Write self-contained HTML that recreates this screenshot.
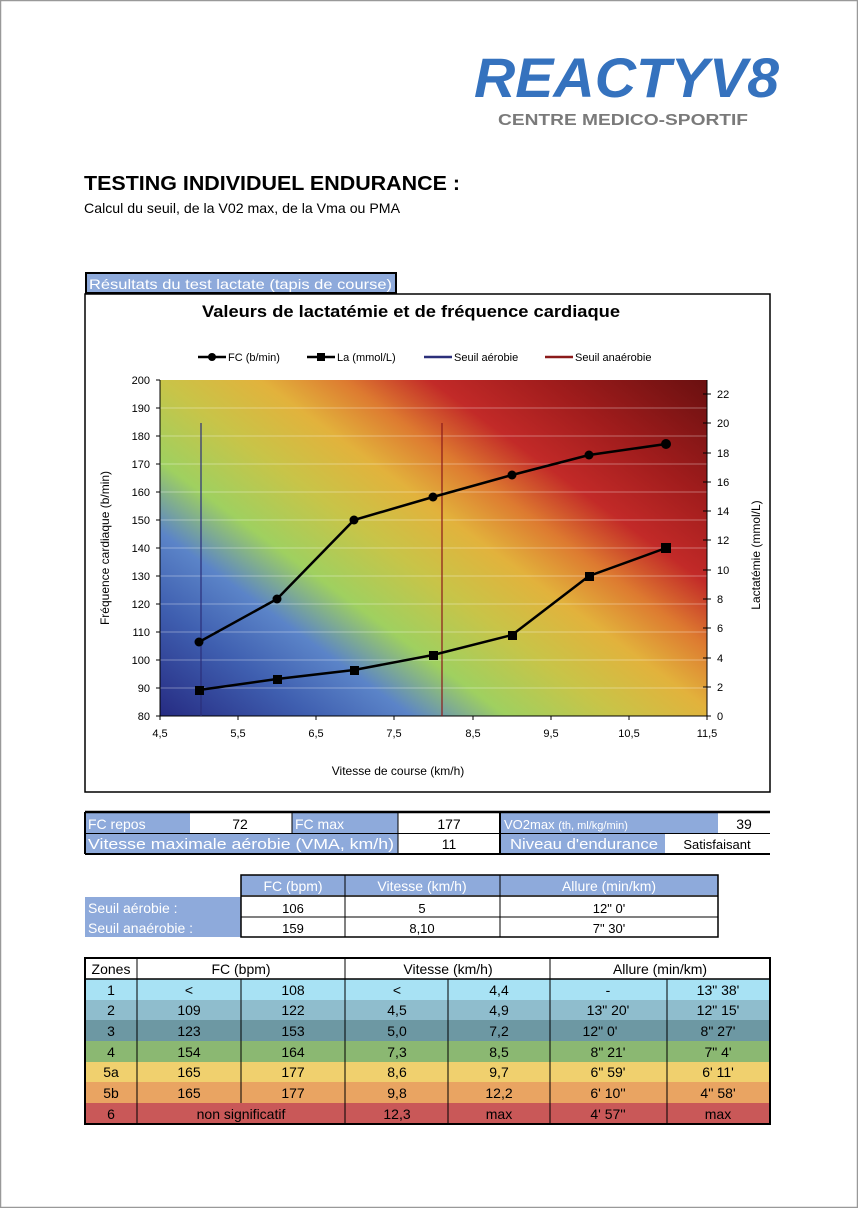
<!DOCTYPE html>
<html><head><meta charset="utf-8"><style>
html,body{margin:0;padding:0;background:#fff}
svg{display:block}
text{font-family:"Liberation Sans",sans-serif}
</style></head><body>
<svg width="858" height="1208" viewBox="0 0 858 1208" xmlns="http://www.w3.org/2000/svg">
<defs>
<linearGradient id="g" gradientUnits="userSpaceOnUse" x1="160" y1="716" x2="511" y2="237">
<stop offset="0" stop-color="#262b82"/>
<stop offset="0.15" stop-color="#3f5fb0"/>
<stop offset="0.25" stop-color="#5b84c8"/>
<stop offset="0.345" stop-color="#9fd060"/>
<stop offset="0.455" stop-color="#c8c448"/>
<stop offset="0.555" stop-color="#e2b23c"/>
<stop offset="0.64" stop-color="#dd7a30"/>
<stop offset="0.725" stop-color="#c22a28"/>
<stop offset="0.84" stop-color="#a01c1c"/>
<stop offset="1" stop-color="#6a1010"/>
</linearGradient>
</defs>
<rect x="0" y="0" width="858" height="1208" fill="#fff"/>
<rect x="0.5" y="0.5" width="857" height="1207" fill="none" stroke="#999" stroke-width="1.5"/>
<!-- logo -->
<text x="474" y="97" font-size="56" font-weight="bold" font-style="italic" fill="#3572be" textLength="305" lengthAdjust="spacingAndGlyphs">REACTYV8</text>
<text x="498" y="125" font-size="16" font-weight="bold" fill="#7a7a7a" textLength="250" lengthAdjust="spacingAndGlyphs">CENTRE MEDICO-SPORTIF</text>
<!-- titles -->
<text x="84" y="190" font-size="20" font-weight="bold" textLength="376" lengthAdjust="spacingAndGlyphs">TESTING INDIVIDUEL ENDURANCE :</text>
<text x="84" y="213" font-size="14" textLength="316" lengthAdjust="spacingAndGlyphs">Calcul du seuil, de la V02 max, de la Vma ou PMA</text>
<!-- chart box -->
<rect x="86" y="273" width="310" height="20" fill="#8eaadb" stroke="#000" stroke-width="2"/>
<text x="89" y="289" font-size="14" fill="#fff" textLength="303" lengthAdjust="spacingAndGlyphs">Résultats du test lactate (tapis de course)</text>
<rect x="85" y="294" width="685" height="498" fill="#fff" stroke="#000" stroke-width="1.5"/>
<text x="202" y="317" font-size="17" font-weight="bold" textLength="418" lengthAdjust="spacingAndGlyphs">Valeurs de lactatémie et de fréquence cardiaque</text>
<!-- legend -->
<g font-size="11">
<line x1="198" y1="357" x2="226" y2="357" stroke="#000" stroke-width="2.5"/><circle cx="212" cy="357" r="4"/>
<text x="228" y="361">FC (b/min)</text>
<line x1="307" y1="357" x2="335" y2="357" stroke="#000" stroke-width="2.5"/><rect x="317" y="353" width="8" height="8"/>
<text x="337" y="361">La (mmol/L)</text>
<line x1="424" y1="357" x2="452" y2="357" stroke="#2b2f7a" stroke-width="2.5"/>
<text x="454" y="361">Seuil aérobie</text>
<line x1="545" y1="357" x2="573" y2="357" stroke="#8b1a1a" stroke-width="2.5"/>
<text x="575" y="361">Seuil anaérobie</text>
</g>
<!-- plot -->
<rect x="160" y="380" width="547" height="336" fill="url(#g)"/>
<g stroke="#fff" stroke-opacity="0.35" stroke-width="1">
<line x1="160" y1="408" x2="707" y2="408"/><line x1="160" y1="436" x2="707" y2="436"/><line x1="160" y1="464" x2="707" y2="464"/><line x1="160" y1="492" x2="707" y2="492"/><line x1="160" y1="520" x2="707" y2="520"/><line x1="160" y1="548" x2="707" y2="548"/><line x1="160" y1="576" x2="707" y2="576"/><line x1="160" y1="604" x2="707" y2="604"/><line x1="160" y1="632" x2="707" y2="632"/><line x1="160" y1="660" x2="707" y2="660"/><line x1="160" y1="688" x2="707" y2="688"/>
</g>
<g stroke="#000" stroke-width="1">
<line x1="160" y1="380" x2="160" y2="716"/><line x1="707" y1="380" x2="707" y2="720"/><line x1="156" y1="716" x2="711" y2="716"/>
<line x1="156" y1="380" x2="160" y2="380"/><line x1="156" y1="408" x2="160" y2="408"/><line x1="156" y1="436" x2="160" y2="436"/><line x1="156" y1="464" x2="160" y2="464"/><line x1="156" y1="492" x2="160" y2="492"/><line x1="156" y1="520" x2="160" y2="520"/><line x1="156" y1="548" x2="160" y2="548"/><line x1="156" y1="576" x2="160" y2="576"/><line x1="156" y1="604" x2="160" y2="604"/><line x1="156" y1="632" x2="160" y2="632"/><line x1="156" y1="660" x2="160" y2="660"/><line x1="156" y1="688" x2="160" y2="688"/>
<line x1="160" y1="716" x2="160" y2="720"/><line x1="238" y1="716" x2="238" y2="720"/><line x1="316" y1="716" x2="316" y2="720"/><line x1="394" y1="716" x2="394" y2="720"/><line x1="473" y1="716" x2="473" y2="720"/><line x1="551" y1="716" x2="551" y2="720"/><line x1="629" y1="716" x2="629" y2="720"/>
<line x1="703" y1="394" x2="711" y2="394"/><line x1="703" y1="423" x2="711" y2="423"/><line x1="703" y1="453" x2="711" y2="453"/><line x1="703" y1="482" x2="711" y2="482"/><line x1="703" y1="511" x2="711" y2="511"/><line x1="703" y1="540" x2="711" y2="540"/><line x1="703" y1="570" x2="711" y2="570"/><line x1="703" y1="599" x2="711" y2="599"/><line x1="703" y1="628" x2="711" y2="628"/><line x1="703" y1="658" x2="711" y2="658"/><line x1="703" y1="687" x2="711" y2="687"/>
</g>
<g font-size="11" text-anchor="end">
<text x="150" y="384">200</text><text x="150" y="412">190</text><text x="150" y="440">180</text><text x="150" y="468">170</text><text x="150" y="496">160</text><text x="150" y="524">150</text><text x="150" y="552">140</text><text x="150" y="580">130</text><text x="150" y="608">120</text><text x="150" y="636">110</text><text x="150" y="664">100</text><text x="150" y="692">90</text><text x="150" y="720">80</text>
</g>
<g font-size="11">
<text x="717" y="398">22</text><text x="717" y="427">20</text><text x="717" y="457">18</text><text x="717" y="486">16</text><text x="717" y="515">14</text><text x="717" y="544">12</text><text x="717" y="574">10</text><text x="717" y="603">8</text><text x="717" y="632">6</text><text x="717" y="662">4</text><text x="717" y="691">2</text><text x="717" y="720">0</text>
</g>
<g font-size="11" text-anchor="middle">
<text x="160" y="737">4,5</text><text x="238" y="737">5,5</text><text x="316" y="737">6,5</text><text x="394" y="737">7,5</text><text x="473" y="737">8,5</text><text x="551" y="737">9,5</text><text x="629" y="737">10,5</text><text x="707" y="737">11,5</text>
</g>
<text x="398" y="775" font-size="12" text-anchor="middle">Vitesse de course (km/h)</text>
<text transform="translate(109,548) rotate(-90)" font-size="12" text-anchor="middle">Fréquence cardiaque  (b/min)</text>
<text transform="translate(760,555) rotate(-90)" font-size="12" text-anchor="middle">Lactatémie  (mmol/L)</text>
<line x1="201" y1="423" x2="201" y2="716" stroke="#2b2f7a" stroke-width="1.2"/>
<line x1="442" y1="423" x2="442" y2="716" stroke="#8b1a1a" stroke-width="1.2"/>
<polyline points="199,642 277,599 354,520 433,497 512,475 589,455 666,444" fill="none" stroke="#000" stroke-width="2.5"/>
<g><circle cx="199" cy="642" r="4.5"/><circle cx="277" cy="599" r="4.5"/><circle cx="354" cy="520" r="4.5"/><circle cx="433" cy="497" r="4.5"/><circle cx="512" cy="475" r="4.5"/><circle cx="589" cy="455" r="4.5"/><circle cx="666" cy="444" r="5"/></g>
<polyline points="199,690 277,679 354,670 433,655 512,635 589,576 666,548" fill="none" stroke="#000" stroke-width="2.5"/>
<g><rect x="195" y="686" width="9" height="9"/><rect x="273" y="675" width="9" height="9"/><rect x="350" y="666" width="9" height="9"/><rect x="429" y="651" width="9" height="9"/><rect x="508" y="631" width="9" height="9"/><rect x="585" y="572" width="9" height="9"/><rect x="661" y="543" width="10" height="10"/></g>

<!-- table 1 -->
<g font-size="14">
<rect x="85" y="813" width="105" height="20" fill="#8eaadb"/><rect x="292" y="813" width="106" height="20" fill="#8eaadb"/><rect x="500" y="813" width="218" height="20" fill="#8eaadb"/>
<rect x="85" y="834" width="313" height="19" fill="#8eaadb"/><rect x="500" y="834" width="165" height="19" fill="#8eaadb"/>
<g stroke="#000" fill="none">
<line x1="85" y1="812" x2="770" y2="812" stroke-width="2.5"/><line x1="85" y1="833.5" x2="770" y2="833.5"/><line x1="85" y1="854" x2="770" y2="854" stroke-width="2"/>
<line x1="85" y1="812" x2="85" y2="854" stroke-width="2"/><line x1="292" y1="812" x2="292" y2="833"/><line x1="398" y1="812" x2="398" y2="854"/><line x1="500" y1="812" x2="500" y2="854" stroke-width="2"/>
</g>
<text x="88" y="829" fill="#fff">FC repos</text><text x="240" y="829" text-anchor="middle">72</text>
<text x="295" y="829" fill="#fff">FC max</text><text x="449" y="829" text-anchor="middle">177</text>
<text x="504" y="829" fill="#fff" font-size="13">VO2max <tspan font-size="11">(th, ml/kg/min)</tspan></text><text x="744" y="829" text-anchor="middle">39</text>
<text x="88" y="849" fill="#fff" font-size="15" textLength="306" lengthAdjust="spacingAndGlyphs">Vitesse maximale aérobie (VMA, km/h)</text><text x="449" y="849" text-anchor="middle">11</text>
<text x="510" y="849" fill="#fff" font-size="15" textLength="148" lengthAdjust="spacingAndGlyphs">Niveau d'endurance</text><text x="717" y="849" text-anchor="middle" font-size="13">Satisfaisant</text>
</g>
<!-- table 2 -->
<g font-size="14">
<rect x="241" y="875" width="477" height="20" fill="#8eaadb"/>
<rect x="85" y="897" width="156" height="40" fill="#8eaadb"/>
<g stroke="#000" fill="none">
<rect x="241" y="875" width="477" height="62" stroke-width="1.5"/>
<line x1="241" y1="896" x2="718" y2="896" stroke-width="1.5"/><line x1="241" y1="917" x2="718" y2="917"/>
<line x1="345" y1="875" x2="345" y2="937"/><line x1="500" y1="875" x2="500" y2="937"/>
</g>
<g fill="#fff" text-anchor="middle"><text x="293" y="891">FC (bpm)</text><text x="422" y="891">Vitesse (km/h)</text><text x="609" y="891">Allure (min/km)</text></g>
<text x="88" y="913" fill="#fff">Seuil aérobie :</text><text x="88" y="933" fill="#fff">Seuil anaérobie :</text>
<g text-anchor="middle" font-size="13"><text x="293" y="913">106</text><text x="422" y="913">5</text><text x="609" y="913">12"  0'</text>
<text x="293" y="933">159</text><text x="422" y="933">8,10</text><text x="609" y="933">7"  30'</text></g>
</g>
<!-- zones -->
<g font-size="14">
<rect x="85" y="979" width="685" height="21" fill="#a8e2f4"/>
<rect x="85" y="1000" width="685" height="20" fill="#8fbdcd"/>
<rect x="85" y="1020" width="685" height="21" fill="#6d98a3"/>
<rect x="85" y="1041" width="685" height="21" fill="#8bb872"/>
<rect x="85" y="1062" width="685" height="20" fill="#f0d06e"/>
<rect x="85" y="1082" width="685" height="21" fill="#e9a462"/>
<rect x="85" y="1103" width="685" height="21" fill="#c95858"/>
<g stroke="#000" fill="none">
<rect x="85" y="958" width="685" height="166" stroke-width="2"/>
<line x1="85" y1="979" x2="770" y2="979" stroke-width="1.5"/>
<line x1="137" y1="958" x2="137" y2="1124"/><line x1="241" y1="979" x2="241" y2="1103"/><line x1="345" y1="958" x2="345" y2="1124"/><line x1="448" y1="979" x2="448" y2="1124"/><line x1="550" y1="958" x2="550" y2="1124"/><line x1="667" y1="979" x2="667" y2="1124"/>
</g>
<g text-anchor="middle">
<text x="111" y="974">Zones</text><text x="241" y="974">FC (bpm)</text><text x="448" y="974">Vitesse (km/h)</text><text x="660" y="974">Allure (min/km)</text>
<text x="111" y="995">1</text><text x="189" y="995">&lt;</text><text x="293" y="995">108</text><text x="397" y="995">&lt;</text><text x="499" y="995">4,4</text><text x="608" y="995">-</text><text x="718" y="995">13"  38'</text>
<text x="111" y="1015">2</text><text x="189" y="1015">109</text><text x="293" y="1015">122</text><text x="397" y="1015">4,5</text><text x="499" y="1015">4,9</text><text x="608" y="1015">13"  20'</text><text x="718" y="1015">12"  15'</text>
<text x="111" y="1036">3</text><text x="189" y="1036">123</text><text x="293" y="1036">153</text><text x="397" y="1036">5,0</text><text x="499" y="1036">7,2</text><text x="600" y="1036">12"  0'</text><text x="718" y="1036">8"  27'</text>
<text x="111" y="1057">4</text><text x="189" y="1057">154</text><text x="293" y="1057">164</text><text x="397" y="1057">7,3</text><text x="499" y="1057">8,5</text><text x="608" y="1057">8"  21'</text><text x="718" y="1057">7"  4'</text>
<text x="111" y="1077">5a</text><text x="189" y="1077">165</text><text x="293" y="1077">177</text><text x="397" y="1077">8,6</text><text x="499" y="1077">9,7</text><text x="608" y="1077">6"  59'</text><text x="718" y="1077">6'  11'</text>
<text x="111" y="1098">5b</text><text x="189" y="1098">165</text><text x="293" y="1098">177</text><text x="397" y="1098">9,8</text><text x="499" y="1098">12,2</text><text x="608" y="1098">6'  10''</text><text x="718" y="1098">4''  58'</text>
<text x="111" y="1119">6</text><text x="241" y="1119">non significatif</text><text x="397" y="1119">12,3</text><text x="499" y="1119">max</text><text x="608" y="1119">4'  57''</text><text x="718" y="1119">max</text>
</g>
</g>
</svg>
</body></html>
